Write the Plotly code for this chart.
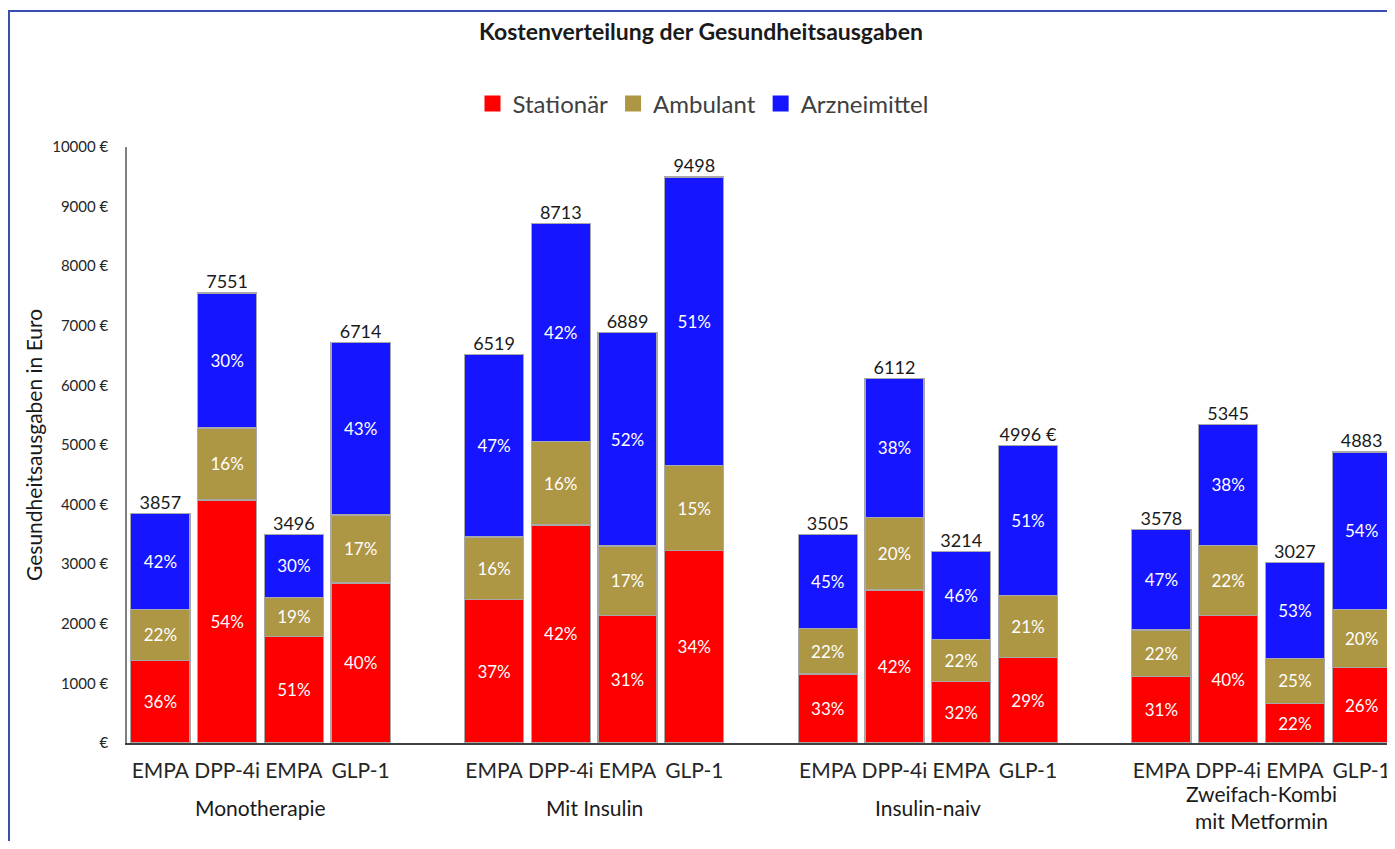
import plotly.graph_objects as go

# ---- data ----
groups = ["Monotherapie", "Mit Insulin", "Insulin-naiv", "Zweifach-Kombi<br>mit Metformin"]
drugs = ["EMPA", "DPP-4i", "EMPA", "GLP-1"]
totals = [3857, 7551, 3496, 6714,
          6519, 8713, 6889, 9498,
          3505, 6112, 3214, 4996,
          3578, 5345, 3027, 4883]
total_labels = ["3857", "7551", "3496", "6714",
                "6519", "8713", "6889", "9498",
                "3505", "6112", "3214", "4996 €",
                "3578", "5345", "3027", "4883"]
pct_stationaer = [36, 54, 51, 40, 37, 42, 31, 34, 33, 42, 32, 29, 31, 40, 22, 26]
pct_ambulant = [22, 16, 19, 17, 16, 16, 17, 15, 22, 20, 22, 21, 22, 22, 25, 20]
pct_arznei = [42, 30, 30, 43, 47, 42, 52, 51, 45, 38, 46, 51, 47, 38, 53, 54]
series_names = ["Stationär", "Ambulant", "Arzneimittel"]
series_colors = ["#ff0000", "#ad9644", "#1515ff"]
y_ticks = [0, 1000, 2000, 3000, 4000, 5000, 6000, 7000, 8000, 9000, 10000]
y_ticklabels = ["€", "1000 €", "2000 €", "3000 €", "4000 €", "5000 €",
                "6000 €", "7000 €", "8000 €", "9000 €", "10000 €"]

FONT = "Lato"

# positions: 4 bars per group, one empty slot between groups
n_per = len(drugs)
xpos = [g * (n_per + 1) + i for g in range(len(groups)) for i in range(n_per)]
xlabels = [drugs[i] for g in range(len(groups)) for i in range(n_per)]

pcts = [pct_stationaer, pct_ambulant, pct_arznei]
fig = go.Figure()
for s, name in enumerate(series_names):
    vals = []
    for k in range(len(totals)):
        ssum = pct_stationaer[k] + pct_ambulant[k] + pct_arznei[k]
        vals.append(totals[k] * pcts[s][k] / ssum)
    fig.add_trace(go.Bar(
        x=xpos, y=vals, name=name, legendgroup=name, showlegend=False,
        marker=dict(color=series_colors[s], line=dict(color="#a8a8a8", width=1.2)),
        text=[f"{p}%" for p in pcts[s]],
        textposition="inside", insidetextanchor="middle",
        constraintext="none",
        textfont=dict(family=FONT, size=17, color="white"),
        hoverinfo="skip",
    ))
    # legend entry with a larger square swatch
    fig.add_trace(go.Scatter(
        x=[None], y=[None], mode="markers", name=name, legendgroup=name,
        marker=dict(symbol="square", size=16, color=series_colors[s],
                    line=dict(width=0)),
        showlegend=True, hoverinfo="skip",
    ))

fig.add_trace(go.Scatter(
    x=xpos, y=totals, mode="text", text=total_labels,
    textposition="top center",
    textfont=dict(family=FONT, size=18, color="#1a1a1a"),
    showlegend=False, hoverinfo="skip",
))

# page body has an 8px margin: work in reference pixels and shift
OFF = 8
W, H = 1395 - OFF, 849 - 2 * OFF
L, T = 127 - OFF, 147 - OFF
R = 0
B = H - (743 - OFF)
pw, ph = W - L - R, H - T - B

def px_x(p):
    return (p - OFF - L) / pw

def px_y(p):
    return (H - B - (p - OFF)) / ph

annotations = []
for g, gname in enumerate(groups):
    cx = g * (n_per + 1) + (n_per - 1) / 2
    annotations.append(dict(
        x=cx, xref="x", y=px_y(807), yref="paper", text=gname,
        showarrow=False, xanchor="center", yanchor="middle",
        font=dict(family=FONT, size=21, color="#1a1a1a"),
    ))
annotations.append(dict(
    x=px_x(33), xref="paper", y=0.5, yref="paper",
    text="Gesundheitsausgaben in Euro", textangle=-90,
    showarrow=False, xanchor="center", yanchor="middle",
    font=dict(family=FONT, size=21, color="#1a1a1a"),
))

shapes = [dict(
    type="rect", xref="paper", yref="paper",
    x0=px_x(9), x1=px_x(1395 + 30), y0=px_y(849 + 30), y1=px_y(11),
    line=dict(color="#3a4fb2", width=2), fillcolor="rgba(0,0,0,0)", layer="below",
)]

fig.update_layout(
    width=W, height=H,
    margin=dict(l=L, r=R, t=T, b=B),
    paper_bgcolor="white", plot_bgcolor="white",
    barmode="stack", bargap=0.115,
    title=dict(text="<b>Kostenverteilung der Gesundheitsausgaben</b>",
               x=(701 - OFF) / W, xref="container", xanchor="center",
               y=1 - (32 - OFF) / H, yref="container", yanchor="middle",
               font=dict(family=FONT, size=23, color="#1a1a1a")),
    legend=dict(orientation="h", xref="container", yref="container",
                x=(703 - OFF) / W, xanchor="center", y=1 - (104 - OFF) / H, yanchor="middle",
                font=dict(family=FONT, size=24, color="#404040"),
                traceorder="normal", itemwidth=30),
    xaxis=dict(range=[-0.5, len(groups) * (n_per + 1) - 1.5],
               tickvals=xpos, ticktext=xlabels, tickangle=0,
               showline=True, linecolor="#404040", linewidth=1.5,
               showgrid=False, zeroline=False, ticks="",
               ticklabelstandoff=8,
               tickfont=dict(family=FONT, size=21, color="#262626")),
    yaxis=dict(range=[0, 10000], tickvals=y_ticks, ticktext=y_ticklabels,
               showline=True, linecolor="#7f7f7f", linewidth=1.5,
               showgrid=False, zeroline=False, ticks="",
               ticklabelstandoff=14,
               tickfont=dict(family=FONT, size=15, color="#262626")),
    annotations=annotations, shapes=shapes,
)

fig.write_html("out.html")
